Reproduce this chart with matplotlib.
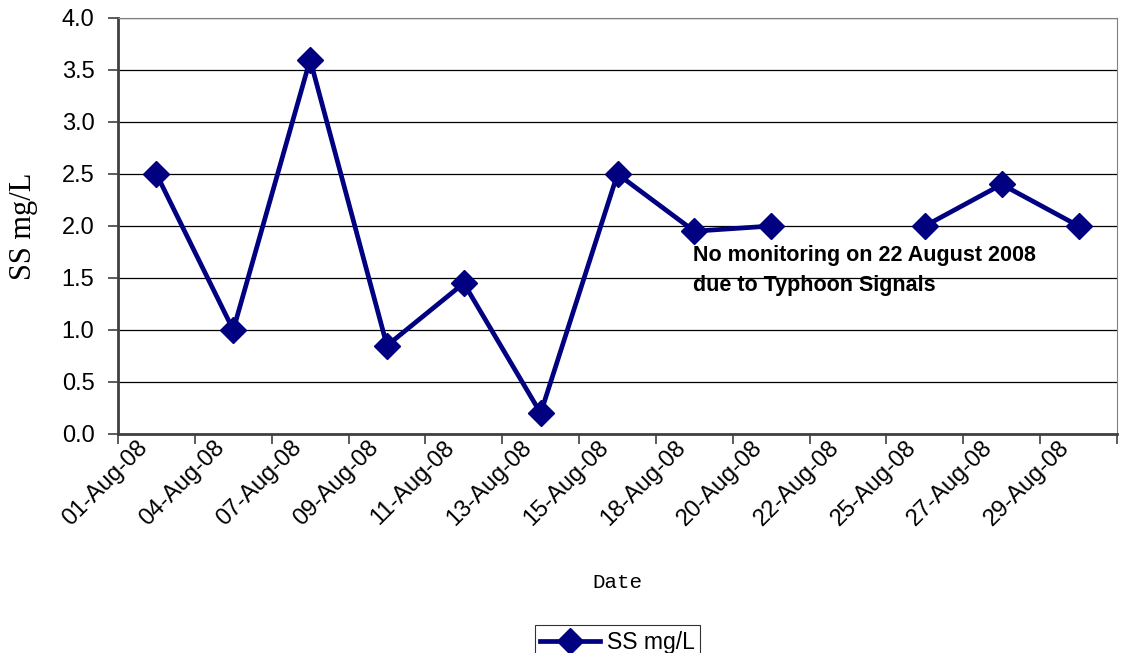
import numpy as np
import matplotlib.pyplot as plt
from matplotlib.ticker import FixedLocator, MultipleLocator
from matplotlib.transforms import ScaledTranslation

dates = ["01-Aug-08", "04-Aug-08", "07-Aug-08", "09-Aug-08", "11-Aug-08",
         "13-Aug-08", "15-Aug-08", "18-Aug-08", "20-Aug-08", "22-Aug-08",
         "25-Aug-08", "27-Aug-08", "29-Aug-08"]
ss_values = [2.5, 1.0, 3.6, 0.85, 1.45, 0.2, 2.5, 1.95, 2.0, np.nan, 2.0, 2.4, 2.0]

NAVY = "#000080"
SANS = "Liberation Sans"
SERIF = "Liberation Serif"

fig = plt.figure(figsize=(11.28, 6.53), dpi=100)
ax = fig.add_axes([118 / 1128, 1 - 434 / 653, 999 / 1128, 416 / 653])

x = np.arange(len(dates))
ax.plot(x, ss_values, color=NAVY, lw=3.4, marker="D", ms=13.5,
        markerfacecolor=NAVY, markeredgecolor=NAVY, label="SS mg/L",
        clip_on=False, zorder=3)

ax.set_xlim(-0.5, len(dates) - 0.5)
ax.set_ylim(0, 4.0)
ax.yaxis.set_major_locator(MultipleLocator(0.5))
ax.yaxis.set_major_formatter(plt.FormatStrFormatter("%.1f"))
ax.grid(axis="y", color="black", lw=0.9)
ax.set_axisbelow(True)

# category labels centered, ticks on the boundaries
ax.set_xticks(x)
ax.set_xticklabels(dates, rotation=45, ha="right", rotation_mode="anchor",
                   fontsize=17, family=SANS)
ax.tick_params(axis="x", which="major", length=0, pad=2)
shift = ScaledTranslation(-20 / 100, 0, fig.dpi_scale_trans)
for lab in ax.get_xticklabels():
    lab.set_transform(lab.get_transform() + shift)
ax.xaxis.set_minor_locator(FixedLocator(np.arange(-0.5, len(dates), 1.0)))
ax.tick_params(axis="x", which="minor", length=7, width=1.2, color="#404040")
ax.tick_params(axis="y", length=7, width=1.2, color="#404040",
               labelsize=17, pad=10)
for lab in ax.get_yticklabels():
    lab.set_family(SANS)

for side in ["left", "bottom"]:
    ax.spines[side].set_color("#404040")
    ax.spines[side].set_linewidth(2)
for side in ["top", "right"]:
    ax.spines[side].set_color("#808080")
    ax.spines[side].set_linewidth(0.8)

ax.set_ylabel("SS mg/L", family=SERIF, fontsize=22)
ax.yaxis.set_label_coords(-80 / 999, 0.5)
ax.set_xlabel("Date", family="Liberation Mono", fontsize=15)
ax.xaxis.set_label_coords(0.5, -139 / 416)

ax.text(6.98, 1.82, "No monitoring on 22 August 2008\ndue to Typhoon Signals",
        ha="left", va="top", fontsize=15.5, fontweight="bold", family=SANS,
        linespacing=1.6)

leg = ax.legend(loc="upper center", bbox_to_anchor=(0.5, -0.459),
                borderaxespad=0, frameon=True, fancybox=False,
                edgecolor="black", handlelength=2.6, handletextpad=0.3,
                borderpad=0.25, prop={"family": SANS, "size": 16.5})
leg.get_frame().set_linewidth(0.8)

fig.savefig("out.png", dpi=100)
